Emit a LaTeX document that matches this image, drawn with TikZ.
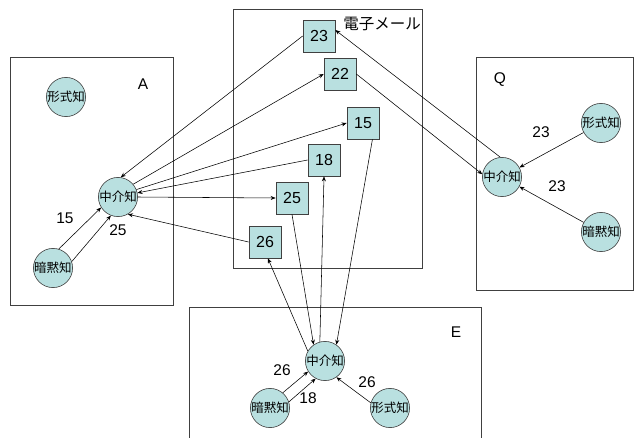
\documentclass[tikz,border=0pt]{standalone}
\usepackage{fontspec}
\setmainfont{Liberation Sans}
\newfontfamily\jpfont{Noto Sans CJK JP}
\usetikzlibrary{arrows.meta}
\definecolor{knfill}{HTML}{B9E0E0}
\definecolor{knline}{HTML}{404040}
\tikzset{
  frame/.style={draw=black!75, line width=0.7pt},
  know/.style={circle, draw=knline, fill=knfill, line width=0.6pt, minimum size=32pt, inner sep=0pt,
               font=\jpfont\fontsize{12.5}{13}\selectfont},
  msg/.style={rectangle, draw=knline, fill=knfill, line width=0.7pt, minimum size=32pt, inner sep=0pt,
              font=\fontsize{16}{18}\selectfont},
  lbl/.style={font=\fontsize{15.5}{18}\selectfont, inner sep=0pt},
  arr/.style={-{Stealth[length=5pt,width=4pt]}, line width=0.55pt, draw=black}
}
\begin{document}
\begin{tikzpicture}[x=1pt,y=-1pt]
\useasboundingbox (0,0) rectangle (640,437);
\fill[white] (0,0) rectangle (640,437);

% group frames
\draw[frame] (10,57) rectangle (173,305);
\draw[frame] (233,9) rectangle (422,268);
\draw[frame] (476,57) rectangle (633,290);
\draw[frame] (189,445) -- (189,307) -- (481,307) -- (481,445);

% frame titles
\node[lbl] (tA) at (143,84) {A};
\node[lbl] (tQ) at (500,80) {Q};
\node[lbl] (tE) at (456,332) {E};
\node[font=\jpfont\fontsize{15.5}{18}\selectfont, inner sep=0pt] (tM) at (382,24) {電子メール};

% knowledge nodes of A
\node[know] (Aform) at (66,97) {形式知};
\node[know] (Amid) at (118,197) {中介知};
\node[know] (Atac) at (53,268) {暗黙知};

% knowledge nodes of Q
\node[know] (Qform) at (601,123) {形式知};
\node[know] (Qmid) at (502,177) {中介知};
\node[know] (Qtac) at (601,232) {暗黙知};

% knowledge nodes of E
\node[know] (Emid) at (325,361) {中介知};
\node[know] (Etac) at (270,408) {暗黙知};
\node[know] (Eform) at (390,408) {形式知};

% e-mail messages
\node[msg] (m23) at (319,36) {23};
\node[msg] (m22) at (340,74) {22};
\node[msg] (m15) at (363,123) {15};
\node[msg] (m18) at (324,160) {18};
\node[msg] (m25) at (292,198) {25};
\node[msg] (m26) at (265,242) {26};

% inside A
\draw[arr] (Atac.73) -- (Amid.212);
\draw[arr] (Atac.19) -- (Amid.249);
\node[lbl] (l15) at (65,218) {15};
\node[lbl] (l25) at (118,230) {25};

% A <-> e-mail
\draw[arr] (m23.west) -- (Amid.82);
\draw[arr] (Amid.40) -- (m22.west);
\draw[arr] (Amid.22) -- (m15.west);
\draw[arr] (m18.west) -- (Amid.12);
\draw[arr] (Amid.east) -- (m25.west);
\draw[arr] (m26.west) -- (Amid.-60);

% Q <-> e-mail
\draw[arr] (Qmid.95) -- (m23.20);
\draw[arr] (m22.east) -- (Qmid.172);

% inside Q
\draw[arr] (Qform) -- (Qmid);
\draw[arr] (Qtac) -- (Qmid);
\node[lbl] (q23a) at (541,132) {23};
\node[lbl] (q23b) at (557,186) {23};

% E <-> e-mail
\draw[arr] (Emid.150) -- (m26.-80);
\draw[arr] (m25.south) -- (Emid.125);
\draw[arr] (Emid.105) -- (m18.south);
\draw[arr] (m15.-60) -- (Emid.55);

% inside E
\draw[arr] (Etac.50) -- (Emid.212);
\draw[arr] (Etac.18) -- (Emid.242);
\draw[arr] (Eform.165) -- (Emid.-55);
\node[lbl] (e26a) at (282,370) {26};
\node[lbl] (e18) at (308,398) {18};
\node[lbl] (e26b) at (367,382) {26};
\end{tikzpicture}
\end{document}
